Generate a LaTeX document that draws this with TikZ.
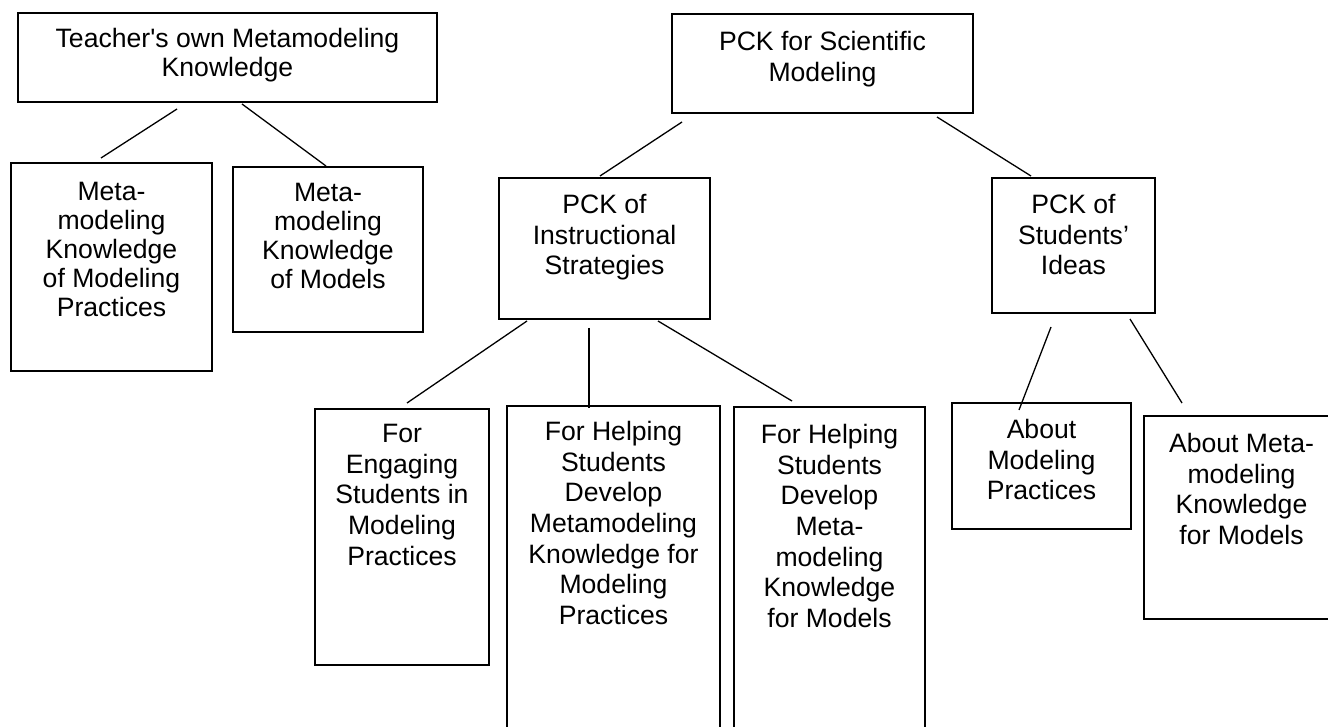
\documentclass[tikz,border=0pt]{standalone}
\usepackage{fontspec}
\newfontfamily\arial{Liberation Sans}
\usetikzlibrary{calc,fit}

\begin{document}
\begin{tikzpicture}[x=0.5pt, y=-0.5pt,
    box/.style={rectangle, draw, line width=1pt, inner sep=0pt},
    txt/.style={anchor=north, align=center, inner sep=0pt, font=\arial\fontsize{13.3pt}{15.3pt}\selectfont},
    tight/.style={font=\arial\fontsize{13.3pt}{14.5pt}\selectfont},
    link/.style={line width=0.65pt}
]
    \clip (0,0) rectangle (1328,727);

    % Teacher side
    \node[box, fit={(18,13) (437,102)}] (teach) {};
    \node[box, fit={(11,163) (212,371)}] (mmprac) {};
    \node[box, fit={(233,167) (423,332)}] (mmmod) {};

    % PCK side
    \node[box, fit={(672,14) (973,113)}] (pcksci) {};
    \node[box, fit={(499,178) (710,319)}] (pckins) {};
    \node[box, fit={(992,178) (1155,313)}] (pckstu) {};

    % Strategies
    \node[box, fit={(315,409) (489,665)}] (engage) {};
    \node[box, fit={(507,406) (720,745)}] (helpprac) {};
    \node[box, fit={(734,407) (925,745)}] (helpmod) {};

    % Students' ideas
    \node[box, fit={(952,403) (1131,529)}] (aboutprac) {};
    \node[box, fit={(1144,416) (1339,619)}] (aboutmeta) {};

    % Texts
    \node[txt, tight] (teach-t) at ([yshift=-8pt]teach.north) {Teacher's own Metamodeling\\Knowledge};
    \node[txt, tight] (mmprac-t) at ([yshift=-10pt]mmprac.north) {Meta-\\modeling\\Knowledge\\of Modeling\\Practices};
    \node[txt, tight] (mmmod-t) at ([yshift=-8.5pt]mmmod.north) {Meta-\\modeling\\Knowledge\\of Models};
    \node[txt] (pcksci-t) at ([yshift=-9pt]pcksci.north) {PCK for Scientific\\Modeling};
    \node[txt] (pckins-t) at ([yshift=-8.5pt]pckins.north) {PCK of\\Instructional\\Strategies};
    \node[txt] (pckstu-t) at ([yshift=-8.5pt]pckstu.north) {PCK of\\Students’\\Ideas};
    \node[txt] (engage-t) at ([yshift=-8pt]engage.north) {For\\Engaging\\Students in\\Modeling\\Practices};
    \node[txt] (helpprac-t) at ([yshift=-8pt]helpprac.north) {For Helping\\Students\\Develop\\Metamodeling\\Knowledge for\\Modeling\\Practices};
    \node[txt] (helpmod-t) at ([yshift=-9pt]helpmod.north) {For Helping\\Students\\Develop\\Meta-\\modeling\\Knowledge\\for Models};
    \node[txt] (aboutprac-t) at ([yshift=-8.5pt]aboutprac.north) {About\\Modeling\\Practices};
    \node[txt] (aboutmeta-t) at ([yshift=-9pt]aboutmeta.north) {About Meta-\\modeling\\Knowledge\\for Models};

    % Lines
    \draw[link] ($(teach.south west)+(160,6)$) -- ($(mmprac.north west)+(91,-4)$);
    \draw[link] ($(teach.south west)+(225,1)$) -- ($(mmmod.north west)+(94,0)$);
    \draw[link] ($(pcksci.south west)+(11,8)$) -- ($(pckins.north west)+(102,-1)$);
    \draw[link] ($(pcksci.south west)+(266,3)$) -- ($(pckstu.north west)+(40,-1)$);
    \draw[link] ($(pckins.south west)+(29,1)$) -- ($(engage.north west)+(93,-5)$);
    \draw[link] ($(pckins.south west)+(91,8)$) -- ($(helpprac.north west)+(83,3)$);
    \draw[link] ($(pckins.south west)+(160,1)$) -- ($(helpmod.north west)+(59,-5)$);
    \draw[link] ($(pckstu.south west)+(60,13)$) -- ($(aboutprac.north west)+(68,8)$);
    \draw[link] ($(pckstu.south west)+(139,5)$) -- ($(aboutmeta.north west)+(39,-12)$);
\end{tikzpicture}
\end{document}
